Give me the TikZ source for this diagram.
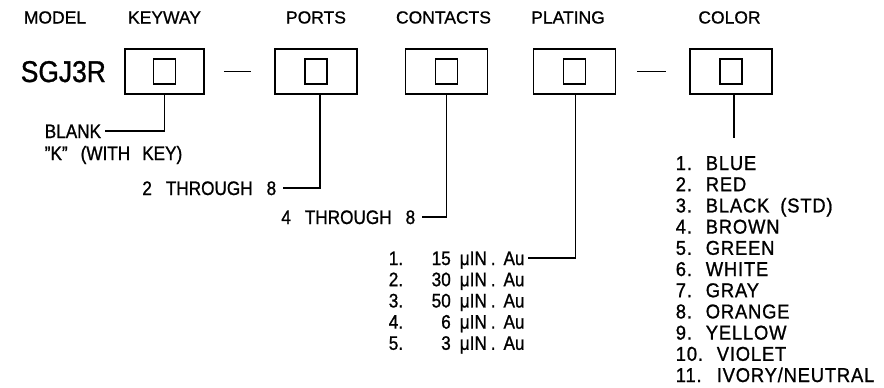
\documentclass[tikz,border=0pt]{standalone}
\usepackage{fontspec}
\setmainfont{Liberation Sans}[FakeBold=0.8]
\newfontfamily\hdrfont[FakeBold=0.8]{Liberation Sans}
\newfontfamily\cadfont[FakeStretch=0.88,FakeBold=1.0]{Liberation Sans}
\newfontfamily\colfont[FakeStretch=0.92,FakeBold=1.0,LetterSpace=4]{Liberation Sans}
\begin{document}
\begin{tikzpicture}[x=1pt,y=-1pt,line width=1.6pt,
  hdr/.style={font=\hdrfont\fontsize{17.5}{17.5}\selectfont,anchor=base,inner sep=0pt},
  codebox/.style={draw,minimum width=82pt,minimum height=45pt,inner sep=0pt},
  slot/.style={draw,minimum width=22pt,minimum height=25pt,inner sep=0pt},
  lbl/.style={font=\cadfont\fontsize{19.5}{19.5}\selectfont,text height=14pt,text depth=0pt,inner ysep=3pt,inner xsep=3pt},
  clbl/.style={lbl,font=\colfont\fontsize{20}{20}\selectfont,anchor=west},
  wire/.style={line width=1.6pt}]
\useasboundingbox (0,0) rectangle (884,388);

% headers
\node[hdr] (hmodel) at (55,23.5) {MODEL};
\node[hdr] (hkey) at (164.5,23.5) {KEYWAY};
\node[hdr] (hports) at (316,23.5) {PORTS};
\node[hdr] (hcont) at (443.5,23.5) {CONTACTS};
\node[hdr] (hplat) at (568,23.5) {PLATING};
\node[hdr] (hcol) at (729.5,23.5) {COLOR};

% model
\node[font=\cadfont\fontsize{30}{30}\selectfont,anchor=base west,inner sep=0pt] (model) at (20,82) {SGJ3R};

% code boxes
\node[codebox,minimum width=79pt] (kw) at (164.5,71.5) {};
\node[codebox] (po) at (316,71.5) {};
\node[codebox] (co) at (446.5,71.5) {};
\node[codebox] (pl) at (574.5,71.5) {};
\node[codebox] (cl) at (731,71.5) {};
\foreach \b in {kw,po,co,pl,cl}{
  \node[slot] (\b-slot) at (\b.center) {};
}

% separators
\draw[wire] ([xshift=19pt]kw.east) -- ([xshift=-23pt]po.west);
\draw[wire] ([xshift=21pt]pl.east) -- ([xshift=-23pt]cl.west);

% keyway options
\node[lbl,anchor=west,inner xsep=3pt] (blank) at (41,131) {BLANK};
\node[lbl,anchor=west] (withkey) at (41,153) {”K”\hspace{13pt}(WITH\hspace{12pt}KEY)};
\draw[wire] (kw.south) |- (blank.east);

% ports
\node[lbl,anchor=east,inner xsep=6pt] (p2) at (283,188) {2\hspace{14pt}THROUGH\hspace{14pt}8};
\draw[wire] ([xshift=4pt]po.south) |- (p2.east);

% contacts
\node[lbl,anchor=east,inner xsep=6pt] (c4) at (422,217) {4\hspace{14pt}THROUGH\hspace{14pt}8};
\draw[wire] (co.south) |- (c4.east);

% plating
\newcommand\platrow[2]{\makebox[30pt][l]{#1}\makebox[32pt][r]{#2}\hspace{9pt}\makebox[31pt][l]{μIN}.\hspace{8pt}Au\hspace{8pt}}
\node[lbl,anchor=west] (pl1) at (385,258) {\platrow{1.}{15}};
\node[lbl,anchor=west] (pl2) at (385,279.2) {\platrow{2.}{30}};
\node[lbl,anchor=west] (pl3) at (385,300.4) {\platrow{3.}{50}};
\node[lbl,anchor=west] (pl4) at (385,321.6) {\platrow{4.}{6}};
\node[lbl,anchor=west] (pl5) at (385,342.8) {\platrow{5.}{3}};
\draw[wire] ([xshift=1pt]pl.south) |- (pl1.east);

% color
\coordinate (clend) at (734,138);
\draw[wire] ([xshift=3pt]cl.south) -- (clend);
\newcommand\colrow[2]{\makebox[30pt][l]{#1}#2}
\newcommand\colrowb[2]{\makebox[41pt][l]{#1}#2}
\node[clbl] (col1) at (672,163) {\colrow{1.}{BLUE}};
\node[clbl] (col2) at (672,184.2) {\colrow{2.}{RED}};
\node[clbl] (col3) at (672,205.4) {\colrow{3.}{BLACK\hspace{11pt}(STD)}};
\node[clbl] (col4) at (672,226.6) {\colrow{4.}{BROWN}};
\node[clbl] (col5) at (672,247.8) {\colrow{5.}{GREEN}};
\node[clbl] (col6) at (672,269) {\colrow{6.}{WHITE}};
\node[clbl] (col7) at (672,290.2) {\colrow{7.}{GRAY}};
\node[clbl] (col8) at (672,311.4) {\colrow{8.}{ORANGE}};
\node[clbl] (col9) at (672,332.6) {\colrow{9.}{YELLOW}};
\node[clbl] (col10) at (672,353.8) {\colrowb{10.}{VIOLET}};
\node[clbl] (col11) at (672,375) {\colrowb{11.}{IVORY/NEUTRAL}};
\end{tikzpicture}
\end{document}
